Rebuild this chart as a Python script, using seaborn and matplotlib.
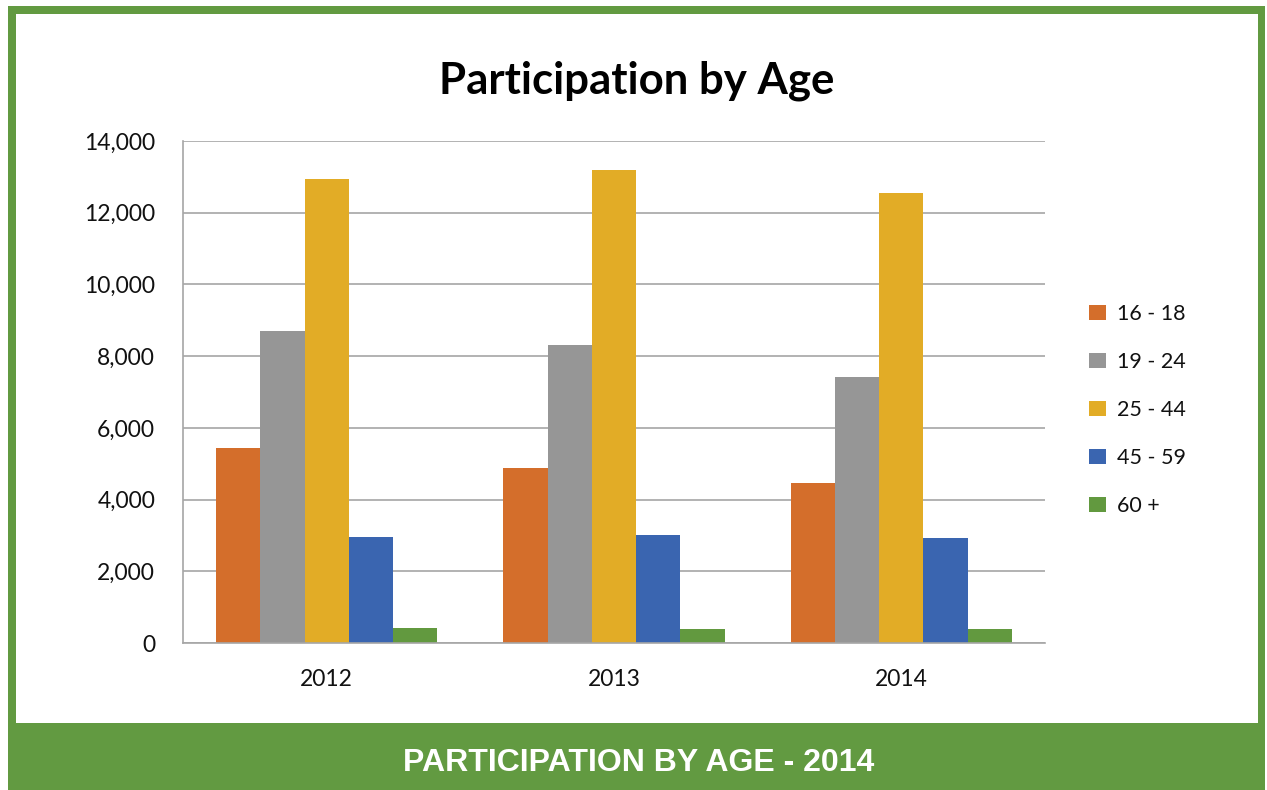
import numpy as np
import pandas as pd
import matplotlib
matplotlib.use("Agg")
import matplotlib.pyplot as plt
import seaborn as sns
from matplotlib.patches import Rectangle
from matplotlib.ticker import FuncFormatter

# chart data
years = ["2012", "2013", "2014"]
age_groups = ["16 - 18", "19 - 24", "25 - 44", "45 - 59", "60 +"]
participants_16_18 = [5440, 4880, 4460]
participants_19_24 = [8700, 8310, 7420]
participants_25_44 = [12940, 13190, 12550]
participants_45_59 = [2960, 3010, 2930]
participants_60_plus = [420, 390, 390]

colors = ["#D46E2B", "#969696", "#E2AC26", "#3A65B0", "#62993F"]
frame_green = "#629A41"


def build_frame():
    series = [participants_16_18, participants_19_24, participants_25_44,
              participants_45_59, participants_60_plus]
    rows = []
    for group, values in zip(age_groups, series):
        for year, v in zip(years, values):
            rows.append({"year": year, "age": group, "count": v})
    return pd.DataFrame(rows)


def main():
    df = build_frame()

    sns.set_theme(style="white")
    plt.rcParams["font.family"] = ["Lato", "DejaVu Sans"]

    W, H = 1267, 790
    fig = plt.figure(figsize=(W / 100, H / 100), dpi=100)
    fig.patch.set_facecolor("white")

    # green frame and footer banner (pixel coords -> figure fraction)
    def px_rect(x0, y0, x1, y1, color, z):
        fig.patches.append(Rectangle((x0 / W, 1 - y1 / H), (x1 - x0) / W, (y1 - y0) / H,
                                     transform=fig.transFigure, facecolor=color,
                                     edgecolor="none", zorder=z))
    px_rect(8, 6, 1265, 790, frame_green, 0)
    px_rect(16, 14, 1258, 723, "white", 0.5)

    ax = fig.add_axes([183 / W, 147 / H, 862 / W, 502 / H])
    ax.set_zorder(2)
    ax.set_facecolor("none")
    sns.barplot(data=df, x="year", y="count", hue="age", palette=colors,
                width=0.77, saturation=1, edgecolor="none", ax=ax, legend=True)

    ax.set_ylim(0, 14000)
    ax.set_yticks(np.arange(0, 14001, 2000))
    ax.yaxis.set_major_formatter(FuncFormatter(lambda v, p: f"{int(v):,}"))
    ax.yaxis.grid(True, color="#A6A6A6", linewidth=1.2)
    ax.set_axisbelow(True)
    ax.set_xlabel("")
    ax.set_ylabel("")
    ax.tick_params(axis="both", length=0, labelsize=16.5, colors="#111111")
    ax.tick_params(axis="y", pad=20)
    ax.tick_params(axis="x", pad=19)
    for side in ["top", "right"]:
        ax.spines[side].set_visible(False)
    for side in ["left", "bottom"]:
        ax.spines[side].set_color("#A6A6A6")
        ax.spines[side].set_linewidth(1.2)

    leg = ax.legend(loc="center left", bbox_to_anchor=(1070 / W, 1 - 410 / H),
                    bbox_transform=fig.transFigure, frameon=False, fontsize=15.5,
                    handlelength=0.75, handleheight=0.75, handletextpad=0.55,
                    labelspacing=1.3)
    for t in leg.get_texts():
        t.set_color("#111111")

    fig.text(637 / W, 1 - 81 / H, "Participation by Age", ha="center", va="center",
             fontsize=31.5, fontweight="bold", color="black", zorder=3)

    fig.text(639 / W, 1 - 763 / H, "PARTICIPATION BY AGE - 2014", ha="center",
             va="center", fontsize=23, fontweight="bold", color="white",
             family=["Liberation Sans Narrow", "Liberation Sans", "DejaVu Sans"],
             zorder=3)

    fig.savefig("out.png", dpi=100, facecolor="white")
    plt.close(fig)


if __name__ == "__main__":
    main()
